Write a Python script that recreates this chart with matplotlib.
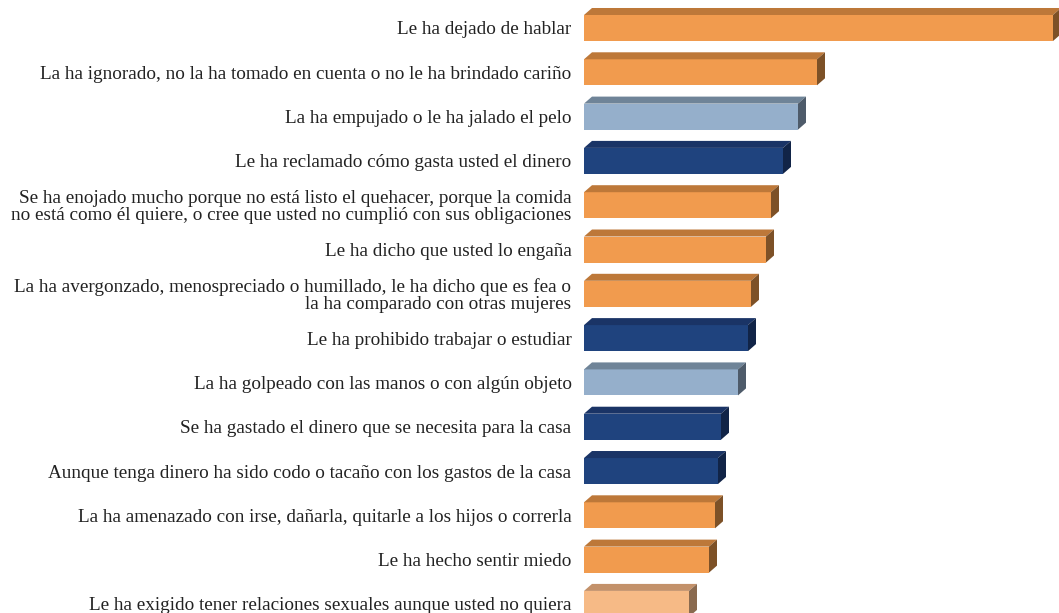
import matplotlib
matplotlib.use("Agg")
import matplotlib.pyplot as plt
from matplotlib.patches import Polygon

# categories, top to bottom
labels = [
    "Le ha dejado de hablar",
    "La ha ignorado, no la ha tomado en cuenta o no le ha brindado cariño",
    "La ha empujado o le ha jalado el pelo",
    "Le ha reclamado cómo gasta usted el dinero",
    "Se ha enojado mucho porque no está listo el quehacer, porque la comida\nno está como él quiere, o cree que usted no cumplió con sus obligaciones",
    "Le ha dicho que usted lo engaña",
    "La ha avergonzado, menospreciado o humillado, le ha dicho que es fea o\nla ha comparado con otras mujeres",
    "Le ha prohibido trabajar o estudiar",
    "La ha golpeado con las manos o con algún objeto",
    "Se ha gastado el dinero que se necesita para la casa",
    "Aunque tenga dinero ha sido codo o tacaño con los gastos de la casa",
    "La ha amenazado con irse, dañarla, quitarle a los hijos o correrla",
    "Le ha hecho sentir miedo",
    "Le ha exigido tener relaciones sexuales aunque usted no quiera",
]
values = [46.9, 23.3, 21.4, 19.9, 18.7, 18.2, 16.7, 16.4, 15.4, 13.7, 13.4, 13.1, 12.5, 10.5]
kinds = ["emo", "emo", "fis", "eco", "emo", "emo", "emo", "eco", "fis", "eco", "eco", "emo", "emo", "sex"]

# front, top, side
palette = {
    "emo": ("#F19B4E", "#BD7839", "#7D5127"),
    "fis": ("#95AFCB", "#6F8498", "#4E5B6A"),
    "eco": ("#1F437E", "#1A3466", "#112447"),
    "sex": ("#F6BA86", "#C3916A", "#8A6A4F"),
}

fig = plt.figure(figsize=(10.59, 6.13), dpi=100)
ax = fig.add_axes([584 / 1059, 0, 475 / 1059, 1])

h = 0.587
dx = 0.8
dy = 0.158
for i, (v, k) in enumerate(zip(values, kinds)):
    front, top, side = palette[k]
    y0 = i - h / 2
    y1 = i + h / 2
    ax.barh(i, v, height=h, color=front, edgecolor="none", zorder=2)
    ax.add_patch(Polygon([(0, y0), (dx, y0 - dy), (v + dx, y0 - dy), (v, y0)],
                         closed=True, facecolor=top, edgecolor="none", zorder=2))
    ax.add_patch(Polygon([(v, y0), (v + dx, y0 - dy), (v + dx, y1 - dy), (v, y1)],
                         closed=True, facecolor=side, edgecolor="none", zorder=2))

ax.set_xlim(0, 47.5)
ax.set_ylim(13.205, -0.632)
ax.set_yticks(range(len(labels)))
ticklabels = ax.set_yticklabels(labels, fontfamily="Liberation Serif", fontsize=13.8, color="#222222")
for t in ticklabels:
    t.set_linespacing(0.95)
ax.tick_params(axis="y", length=0, pad=9)
ax.set_xticks([])
for s in ax.spines.values():
    s.set_visible(False)

fig.savefig("out.png", dpi=100)
